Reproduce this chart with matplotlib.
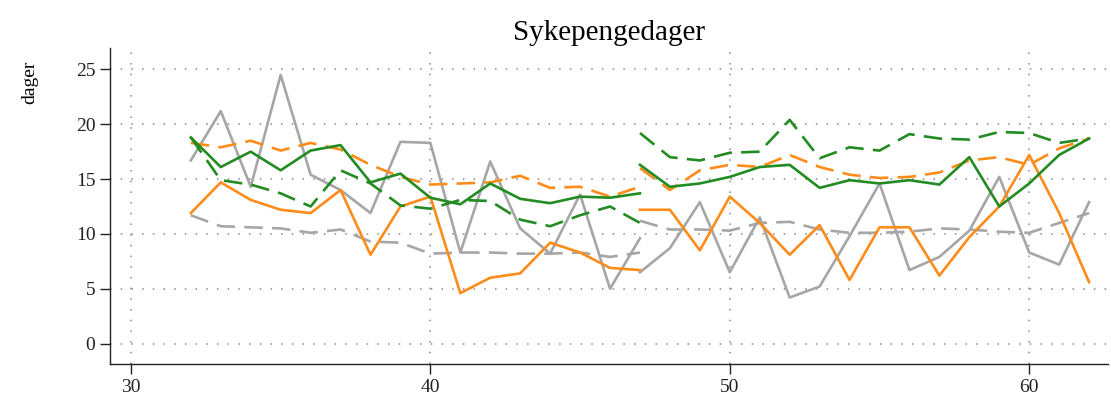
import matplotlib
matplotlib.use("Agg")
import matplotlib.pyplot as plt
import numpy as np

plt.rcParams['font.family'] = ['Liberation Serif', 'DejaVu Serif']

title = "Sykepengedager"
ylabel = "dager"

x1 = list(range(32, 48))
x2 = list(range(47, 63))

gray_solid_1 = [16.7, 21.2, 14.3, 24.5, 15.4, 14.0, 11.9, 18.4, 18.3, 8.3, 16.6, 10.5, 8.2, 13.6, 5.0, 9.6]
gray_solid_2 = [6.5, 8.7, 12.9, 6.5, 11.5, 4.2, 5.2, 9.8, 14.6, 6.7, 7.9, 10.3, 15.2, 8.3, 7.2, 12.9]
gray_dash_1 = [11.7, 10.7, 10.6, 10.5, 10.1, 10.4, 9.3, 9.2, 8.2, 8.3, 8.3, 8.2, 8.2, 8.3, 7.9, 8.3]
gray_dash_2 = [11.2, 10.4, 10.4, 10.3, 11.0, 11.1, 10.4, 10.1, 10.1, 10.2, 10.5, 10.4, 10.2, 10.1, 11.0, 11.9]
orange_solid_1 = [11.9, 14.7, 13.1, 12.2, 11.9, 14.0, 8.1, 12.5, 13.4, 4.6, 6.0, 6.4, 9.2, 8.3, 6.9, 6.7]
orange_solid_2 = [12.2, 12.2, 8.5, 13.4, 11.0, 8.1, 10.8, 5.8, 10.6, 10.6, 6.2, 9.7, 12.5, 17.2, 11.9, 5.6]
orange_dash_1 = [18.3, 17.9, 18.5, 17.6, 18.3, 17.7, 16.3, 15.2, 14.5, 14.6, 14.7, 15.3, 14.2, 14.3, 13.4, 14.3]
orange_dash_2 = [16.0, 14.0, 15.8, 16.3, 16.1, 17.2, 16.1, 15.4, 15.1, 15.2, 15.6, 16.7, 17.0, 16.3, 17.8, 18.7]
green_solid_1 = [18.8, 16.1, 17.5, 15.8, 17.6, 18.1, 14.7, 15.5, 13.3, 12.7, 14.6, 13.2, 12.8, 13.4, 13.3, 13.7]
green_solid_2 = [16.3, 14.3, 14.6, 15.2, 16.1, 16.3, 14.2, 14.9, 14.6, 14.9, 14.5, 17.0, 12.5, 14.6, 17.2, 18.7]
green_dash_1 = [18.8, 14.9, 14.5, 13.7, 12.5, 15.8, 14.6, 12.6, 12.3, 13.1, 13.0, 11.3, 10.7, 11.7, 12.5, 11.0]
green_dash_2 = [19.2, 17.0, 16.7, 17.4, 17.5, 20.4, 16.9, 17.9, 17.6, 19.1, 18.7, 18.6, 19.3, 19.2, 18.3, 18.7]

xticks = [30, 40, 50, 60]
yticks = [0, 5, 10, 15, 20, 25]

GRAY = "#a6a6a6"
ORANGE = "#ff8c1a"
GREEN = "#228b22"
dash = (0, (7, 3.5))

fig = plt.figure(figsize=(11.11, 4.17), dpi=100)
ax = fig.add_axes([0.099, 0.127, 0.898, 0.758])

series = [
    (gray_dash_1, gray_dash_2, GRAY, dash),
    (gray_solid_1, gray_solid_2, GRAY, '-'),
    (orange_dash_1, orange_dash_2, ORANGE, dash),
    (orange_solid_1, orange_solid_2, ORANGE, '-'),
    (green_dash_1, green_dash_2, GREEN, dash),
    (green_solid_1, green_solid_2, GREEN, '-'),
]
for s1, s2, c, ls in series:
    ax.plot(x1, s1, color=c, lw=1.9, linestyle=ls)
    ax.plot(x2, s2, color=c, lw=1.9, linestyle=ls)

ax.set_xlim(29.3, 62.62)
ax.set_ylim(-1.87, 26.96)
ax.set_xticks(xticks)
ax.set_yticks(yticks)
ax.grid(True, color="#888888", linestyle=(0, (1, 6)), linewidth=1.1)
ax.set_axisbelow(True)
for sp in ['top', 'right']:
    ax.spines[sp].set_visible(False)
for sp in ['left', 'bottom']:
    ax.spines[sp].set_color('#222222')
    ax.spines[sp].set_linewidth(1.0)
ax.tick_params(axis='both', direction='out', length=7, width=1, labelsize=14, colors='#222222')
ax.set_title(title, fontsize=21, pad=6)
ax.set_ylabel(ylabel, fontsize=14)
ax.yaxis.set_label_coords(-0.08, 0.89)
ax.yaxis.label.set_va('center')

fig.savefig("out.png", dpi=100)
